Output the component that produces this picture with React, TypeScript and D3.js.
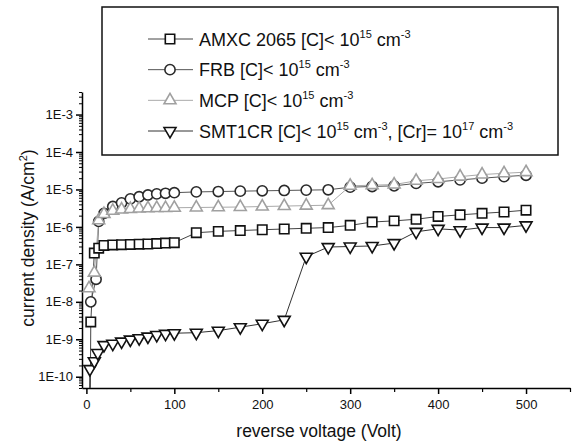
import * as d3 from "d3"
import { useEffect, useRef } from "react"

// voltages (V) and current densities (A/cm2)
const amxcVolt = [4, 5, 9, 14, 20, 30, 40, 50, 60, 70, 80, 90, 100, 125, 150, 175, 200, 225, 250, 275, 300, 325, 350, 375, 400, 425, 450, 475, 500]
const amxcCurrent = [1e-12, 2.9e-9, 2e-7, 2.7e-7, 3.2e-7, 3.3e-7, 3.35e-7, 3.4e-7, 3.45e-7, 3.5e-7, 3.6e-7, 3.7e-7, 3.8e-7, 7.0e-7, 7.6e-7, 8.0e-7, 8.4e-7, 8.8e-7, 9.2e-7, 9.6e-7, 1.1e-6, 1.35e-6, 1.45e-6, 1.6e-6, 1.9e-6, 2.1e-6, 2.3e-6, 2.5e-6, 2.8e-6]

const frbVolt = [5, 11, 14, 20, 30, 40, 50, 60, 70, 80, 90, 100, 125, 150, 175, 200, 225, 250, 275, 300, 325, 350, 375, 400, 425, 450, 475, 500]
const frbCurrent = [1e-8, 4e-8, 1.4e-6, 2.3e-6, 3.5e-6, 4.4e-6, 5.6e-6, 6.4e-6, 7.1e-6, 7.6e-6, 7.9e-6, 8.2e-6, 8.6e-6, 8.8e-6, 9.0e-6, 9.2e-6, 9.4e-6, 9.6e-6, 9.8e-6, 1.15e-5, 1.2e-5, 1.25e-5, 1.45e-5, 1.6e-5, 1.8e-5, 2.0e-5, 2.2e-5, 2.4e-5]

const mcpVolt = [3, 9, 14, 20, 30, 40, 50, 60, 70, 80, 90, 100, 125, 150, 175, 200, 225, 250, 275, 300, 325, 350, 375, 400, 425, 450, 475, 500]
const mcpCurrent = [2.3e-8, 6e-8, 1.5e-6, 2.2e-6, 2.7e-6, 2.9e-6, 3.0e-6, 3.1e-6, 3.15e-6, 3.2e-6, 3.2e-6, 3.25e-6, 3.3e-6, 3.35e-6, 3.4e-6, 3.5e-6, 3.6e-6, 3.7e-6, 3.8e-6, 1.25e-5, 1.3e-5, 1.35e-5, 1.7e-5, 1.9e-5, 2.2e-5, 2.5e-5, 2.7e-5, 2.9e-5]

const smtVolt = [3, 4, 9, 13, 20, 30, 40, 50, 60, 70, 80, 90, 100, 125, 150, 175, 200, 225, 250, 275, 300, 325, 350, 375, 400, 425, 450, 475, 500]
const smtCurrent = [1e-12, 1.6e-10, 2.6e-10, 4.3e-10, 7e-10, 7.6e-10, 8.7e-10, 9.8e-10, 1.07e-9, 1.18e-9, 1.3e-9, 1.4e-9, 1.45e-9, 1.5e-9, 1.7e-9, 2.1e-9, 2.6e-9, 3.3e-9, 1.6e-7, 2.9e-7, 3.0e-7, 3.1e-7, 3.7e-7, 7.4e-7, 8.9e-7, 8.2e-7, 9.6e-7, 9.6e-7, 1.1e-6]

// legend labels: [text, superscript] pieces
const amxcLabel = [["AMXC 2065 [C]< 10", "15"], [" cm", "-3"]]
const frbLabel = [["FRB [C]< 10", "15"], [" cm", "-3"]]
const mcpLabel = [["MCP [C]< 10", "15"], [" cm", "-3"]]
const smtLabel = [["SMT1CR [C]< 10", "15"], [" cm", "-3"], [", [Cr]= 10", "17"], [" cm", "-3"]]

const xTicks = [0, 100, 200, 300, 400, 500]
const xMinorTicks = [50, 150, 250, 350, 450, 550]
const yTicks = [1e-10, 1e-9, 1e-8, 1e-7, 1e-6, 1e-5, 1e-4, 1e-3]
const yTickLabels = ["1E-10", "1E-9", "1E-8", "1E-7", "1E-6", "1E-5", "1E-4", "1E-3"]

const series = [
	{ volt: amxcVolt, current: amxcCurrent, label: amxcLabel, symbol: d3.symbolSquare, size: 88, rotate: 0, color: "#111", line: "#444" },
	{ volt: frbVolt, current: frbCurrent, label: frbLabel, symbol: d3.symbolCircle, size: 82, rotate: 0, color: "#2a2a2a", line: "#555" },
	{ volt: mcpVolt, current: mcpCurrent, label: mcpLabel, symbol: d3.symbolTriangle, size: 62, rotate: 0, color: "#a0a0a0", line: "#aaa" },
	{ volt: smtVolt, current: smtCurrent, label: smtLabel, symbol: d3.symbolTriangle, size: 62, rotate: 180, color: "#111", line: "#333" },
]

export default function App() {

	const svgRef = useRef(null)

	useEffect(() => {
		const svg = d3.select(svgRef.current)
		svg.selectAll('*').remove()

		const font = "Arial, 'Liberation Sans', Helvetica, sans-serif"
		const left = 82, right = 570, top = 92, bottom = 388

		const x = d3.scaleLinear().domain([-5, 550]).range([left, right])
		const y = d3.scaleLog().domain([5e-11, 4e-3]).range([bottom, top])

		svg.append('defs').append('clipPath').attr('id', 'plot')
			.append('rect').attr('x', left).attr('y', top)
			.attr('width', right - left).attr('height', bottom - top)

		// X axis
		const xAxis = svg.append('g')
			.attr('transform', `translate(0, ${bottom})`)
			.call(d3.axisBottom(x).tickValues(xTicks).tickSize(6).tickPadding(6).tickSizeOuter(0))
		xAxis.selectAll('text').attr('font-size', 13).attr('font-family', font).attr('fill', '#111')
		xAxis.select('.domain').attr('stroke-width', 1.5)
		xAxis.selectAll('.tick line').attr('stroke-width', 1.5)
		svg.append('g')
			.attr('transform', `translate(0, ${bottom})`)
			.call(d3.axisBottom(x).tickValues(xMinorTicks).tickSize(4).tickFormat(() => ''))
			.call(g => g.select('.domain').remove())
			.selectAll('.tick line').attr('stroke-width', 1.2)

		// Y axis
		const yAxis = svg.append('g')
			.attr('transform', `translate(${left}, 0)`)
			.call(d3.axisLeft(y).tickValues(yTicks).tickSize(6).tickPadding(3).tickSizeOuter(0)
				.tickFormat((d, i) => yTickLabels[i]))
		yAxis.selectAll('text').attr('font-size', 13).attr('font-family', font).attr('fill', '#111')
		yAxis.select('.domain').attr('stroke-width', 1.5)
		yAxis.selectAll('.tick line').attr('stroke-width', 1.5)
		const minor = y.ticks().filter(v => !yTicks.some(t => Math.abs(t - v) / t < 1e-6))
		svg.append('g')
			.attr('transform', `translate(${left}, 0)`)
			.call(d3.axisLeft(y).tickValues(minor).tickSize(3).tickFormat(() => ''))
			.call(g => g.select('.domain').remove())
			.selectAll('.tick line').attr('stroke-width', 1)

		// axis titles
		svg.append('text')
			.attr('x', (left + right) / 2 - 7).attr('y', 437)
			.attr('text-anchor', 'middle')
			.attr('font-family', font).attr('font-size', 17.5).attr('fill', '#111')
			.text('reverse voltage (Volt)')

		const yTitle = svg.append('text')
			.attr('transform', `translate(34, 238) rotate(-90)`)
			.attr('text-anchor', 'middle')
			.attr('font-family', font).attr('font-size', 17.5).attr('fill', '#111')
		yTitle.append('tspan').text('current density (A/cm')
		yTitle.append('tspan').attr('dy', -7).attr('font-size', 11).text('2')
		yTitle.append('tspan').attr('dy', 7).text(')')

		// data
		const plot = svg.append('g').attr('clip-path', 'url(#plot)')
		const line = d3.line().x(d => x(d[0])).y(d => y(d[1]))
		series.forEach(s => {
			const pts = s.volt.map((v, i) => [v, s.current[i]])
			plot.append('path')
				.attr('d', line(pts))
				.attr('fill', 'none')
				.attr('stroke', s.line)
				.attr('stroke-width', 1)
		})
		series.forEach(s => {
			const pts = s.volt.map((v, i) => [v, s.current[i]])
			plot.append('g')
				.selectAll('path')
				.data(pts)
				.enter()
				.append('path')
				.attr('d', d3.symbol(s.symbol, s.size)())
				.attr('transform', d => `translate(${x(d[0])}, ${y(d[1])}) rotate(${s.rotate})`)
				.attr('fill', 'white')
				.attr('stroke', s.color)
				.attr('stroke-width', 1.6)
		})

		// legend
		svg.append('rect')
			.attr('x', 102).attr('y', 7).attr('width', 456).attr('height', 148)
			.attr('fill', 'white').attr('stroke', '#111').attr('stroke-width', 1.5)

		const rowY = d3.scalePoint().domain(series.map((s, i) => i)).range([39, 131])
		series.forEach((s, i) => {
			const g = svg.append('g').attr('transform', `translate(0, ${rowY(i)})`)
			g.append('line')
				.attr('x1', 148).attr('x2', 193)
				.attr('stroke', s.line).attr('stroke-width', 1)
			g.append('path')
				.attr('d', d3.symbol(s.symbol, s.size)())
				.attr('transform', `translate(170, 0) rotate(${s.rotate})`)
				.attr('fill', 'white').attr('stroke', s.color).attr('stroke-width', 1.6)
			const t = g.append('text')
				.attr('x', 199).attr('y', 6.5)
				.attr('font-family', font).attr('font-size', 18).attr('fill', '#111')
			let shift = 0
			s.label.forEach(([txt, sup]) => {
				t.append('tspan').attr('dy', shift).text(txt)
				t.append('tspan').attr('dy', -8).attr('font-size', 11).text(sup)
				shift = 8
			})
		})
	}, [])

	return (
		<div style={{ position: 'fixed', left: 0, top: 0, background: 'white' }}>
			<svg ref={svgRef} width={574} height={442} style={{ display: 'block' }} />
		</div>
	)
}
